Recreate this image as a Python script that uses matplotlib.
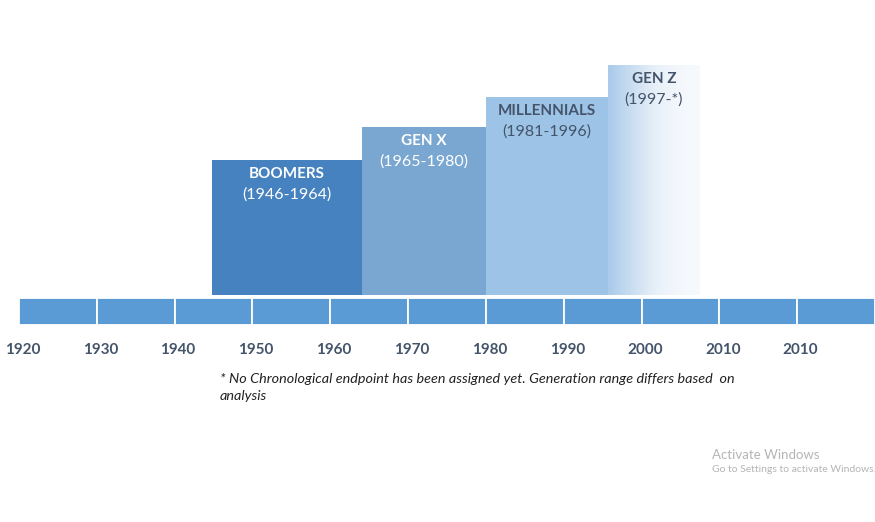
import numpy as np
import matplotlib
matplotlib.use("Agg")
import matplotlib.pyplot as plt
from matplotlib.colors import LinearSegmentedColormap

# generation blocks (years on x, block height in px-like units)
generations = ["BOOMERS", "GEN X", "MILLENNIALS", "GEN Z"]
ranges = ["(1946-1964)", "(1965-1980)", "(1981-1996)", "(1997-*)"]
start_years = [1944.8, 1964.1, 1980.0, 1995.7]
end_years = [1964.1, 1980.0, 1995.7, 2007.5]
heights = [135, 168, 198, 230]
block_colors = ["#4682C0", "#7AA7D1", "#9DC3E6", None]
text_colors = ["white", "white", "#44546A", "#44546A"]

# timeline
decades = [1920, 1930, 1940, 1950, 1960, 1970, 1980, 1990, 2000, 2010, 2020]
decade_labels = ["1920", "1930", "1940", "1950", "1960", "1970",
                 "1980", "1990", "2000", "2010", "2010"]

footnote = ("* No Chronological endpoint has been assigned yet. Generation range differs based  on\n"
            "analysis")

plt.rcParams["font.family"] = ["Lato", "DejaVu Sans"]

fig = plt.figure(figsize=(8.75, 5.22), dpi=100)
ax = fig.add_axes([0, 0, 1, 1])
ax.axis("off")

# timeline bar
bar_bottom, bar_h = 197, 27
ax.bar(decades, [bar_h] * len(decades), width=10, bottom=bar_bottom, align="edge",
       color="#5B9BD5", edgecolor="white", linewidth=1.3)

# decade labels
for yr, lab in zip(decades, decade_labels):
    ax.text(yr + 0.45, 172, lab, ha="center", va="center", fontsize=11,
            fontweight="bold", color="#44546A")

# generation blocks
block_bottom = 227
for i, (g, r) in enumerate(zip(generations, ranges)):
    x0, x1, h = start_years[i], end_years[i], heights[i]
    if block_colors[i] is not None:
        ax.bar(x0, h, width=x1 - x0, bottom=block_bottom, align="edge",
               color=block_colors[i], linewidth=0)
    else:
        cmap = LinearSegmentedColormap.from_list(
            "genz", ["#A9CAEA", "#C9DDF1", "#E6EFF8", "#F3F7FC", "#F7FAFD"])
        grad = np.linspace(0, 1, 256).reshape(1, -1)
        ax.imshow(grad, cmap=cmap, aspect="auto",
                  extent=(x0, x1, block_bottom, block_bottom + h), zorder=2)
    xc = (x0 + x1) / 2
    top = block_bottom + h
    ax.text(xc, top - 14, g, ha="center", va="center", fontsize=11,
            fontweight="bold", color=text_colors[i], zorder=3)
    ax.text(xc, top - 35, r, ha="center", va="center", fontsize=11.5,
            color=text_colors[i], zorder=3)

ax.set_xlim(1917.56, 2030.0)
ax.set_ylim(0, 522)

# footnote
fig.text(220 / 875, 1 - 373 / 522, footnote, ha="left", va="top", fontsize=10.4,
         style="italic", color="#222222", linespacing=1.45)

# watermark
fig.text(712 / 875, 1 - 455 / 522, "Activate Windows", ha="left", va="center",
         fontsize=9.5, color="#B5B5B5")
fig.text(712 / 875, 1 - 469 / 522, "Go to Settings to activate Windows.", ha="left",
         va="center", fontsize=7.5, color="#B5B5B5")

fig.savefig("out.png", dpi=100)
